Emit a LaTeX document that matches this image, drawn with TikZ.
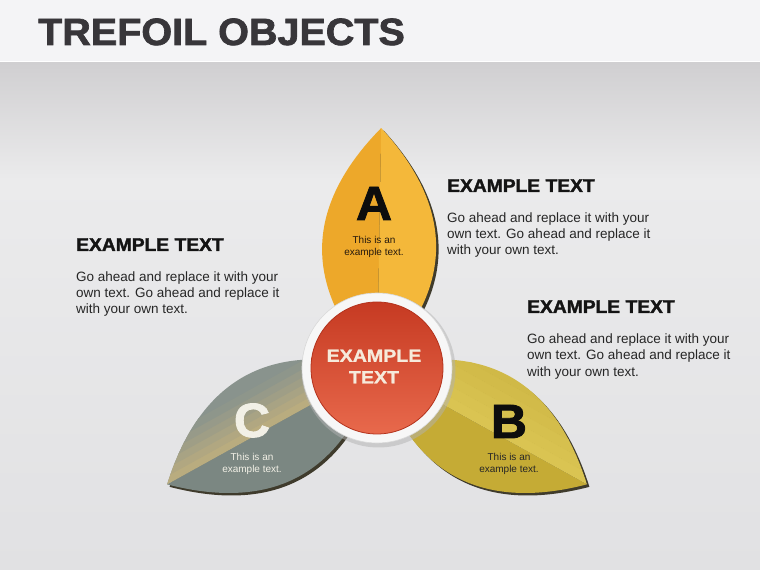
\documentclass[tikz,border=0pt]{standalone}
\usepackage{fontspec}
\setmainfont{Liberation Sans}
\newfontfamily\heavyfont{Liberation Sans}[BoldFeatures={FakeBold=1.8,FakeStretch=1.04}]
\newfontfamily\widefont{Liberation Sans}[BoldFeatures={FakeBold=1.2,FakeStretch=1.12}]
\usetikzlibrary{positioning}

\definecolor{headbg}{HTML}{F4F4F6}
\definecolor{bgtop}{HTML}{D0CFD1}
\definecolor{bgmid}{HTML}{EBEBEC}
\definecolor{bgbot}{HTML}{E1E1E3}
\definecolor{titlegray}{HTML}{38363A}
\definecolor{aleft}{HTML}{EDA82A}
\definecolor{aright}{HTML}{F4B83A}
\definecolor{blow}{HTML}{C5AB35}
\definecolor{bhigh}{HTML}{DAC452}
\definecolor{bup}{HTML}{CBB341}
\definecolor{clow}{HTML}{7B8782}
\definecolor{cbeige}{HTML}{BCAD7E}
\definecolor{cup}{HTML}{89938D}
\definecolor{leafshadow}{HTML}{3F3B2C}
\definecolor{redtop}{HTML}{C63A22}
\definecolor{redmid}{HTML}{D8462A}
\definecolor{redbot}{HTML}{E8694C}
\definecolor{reddark}{HTML}{B3321C}
\definecolor{hubtext}{HTML}{F6EADB}
\definecolor{ctext}{HTML}{F2F0E6}

% one leaf, base at the origin, tip on the x axis
\newcommand{\leafpath}{(0,0) .. controls (80,76) and (160,76) .. (240,0) .. controls (160,-76) and (80,-76) .. (0,0) -- cycle}

\begin{document}
\begin{tikzpicture}[x=1pt,y=1pt,
    title/.style={anchor=base west,inner sep=0pt,text=titlegray,
                  font=\heavyfont\bfseries\fontsize{38}{40}\selectfont},
    heading/.style={anchor=base west,inner sep=0pt,text=black!92,
                    font=\heavyfont\bfseries\fontsize{18.5}{20}\selectfont},
    body/.style={anchor=north west,inner sep=0pt,align=left,text=black!85,
                 font=\fontsize{13.5}{16.2}\selectfont},
    letter/.style={anchor=base,inner sep=0pt,
                   font=\heavyfont\bfseries\fontsize{48}{50}\selectfont},
    caption/.style={inner sep=0pt,align=center,font=\fontsize{10}{12}\selectfont},
    leaf/.style 2 args={shift={#1},rotate=#2}]

  \useasboundingbox (0,0) rectangle (760,570);

  % background
  \shade[top color=bgmid, bottom color=bgbot] (0,0) rectangle (760,390);
  \shade[top color=bgtop, bottom color=bgmid] (0,390) rectangle (760,508);
  \fill[headbg] (0,508) rectangle (760,570);
  \draw[white, line width=1pt] (0,508.5) -- (760,508.5);

  % leaf shadows
  \foreach \ang in {89,-29,209}
    \fill[leafshadow, leaf={(379.5,199.5)}{\ang}] \leafpath;

  % leaf A
  \begin{scope}[leaf={(377,202)}{89}]
    \clip \leafpath;
    \fill[aleft] (0,0) rectangle (240,80);
    \fill[aright] (0,-80) rectangle (240,0);
  \end{scope}

  % leaf B
  \begin{scope}[leaf={(377,202)}{-29}]
    \clip \leafpath;
    \fill[blow] (0,-80) rectangle (240,0);
    \foreach \k in {0,...,7}{
      \pgfmathtruncatemacro\mix{100-\k*13}
      \fill[bhigh!\mix!bup] (0,\k*10) rectangle (240,\k*10+10.5);
    }
  \end{scope}

  % leaf C
  \begin{scope}[leaf={(377,202)}{209}]
    \clip \leafpath;
    \fill[clow] (0,0) rectangle (240,80);
    \fill[cup] (0,-80) rectangle (240,0);
    \foreach \k in {0,...,5}{
      \pgfmathtruncatemacro\mix{95-\k*17}
      \fill[cbeige!\mix!cup] (0,-\k*7) rectangle (240,-\k*7-7.5);
    }
  \end{scope}

  % hub
  \fill[black!30, opacity=.5] (378.5,199.5) circle (77);
  \fill[white!97!black] (377,202) circle (75);
  \draw[black!15, line width=.6pt] (377,202) circle (75);
  \shade[top color=redtop, middle color=redmid, bottom color=redbot] (377,202) circle (66);
  \draw[reddark, line width=.8pt] (377,202) circle (66);

  \node[inner sep=0pt, align=center, text=hubtext,
        font=\widefont\bfseries\fontsize{17.5}{21.5}\selectfont]
        (hub) at (374,203.5) {EXAMPLE\\TEXT};

  % title
  \node[title] (ttl) at (38,525) {TREFOIL OBJECTS};

  % leaf letters
  \node[letter, text=black!95] (letA) at (374,350) {A};
  \node[caption, text=black!80!brown] (capA) [below=15.5pt of letA] {This is an\\example text.};
  \node[letter, text=black!95] (letB) at (509,132) {B};
  \node[caption, text=black!85] (capB) [below=15pt of letB] {This is an\\example text.};
  \node[letter, text=ctext] (letC) at (252,133) {C};
  \node[caption, text=ctext] (capC) [below=15pt of letC] {This is an\\example text.};

  % text blocks
  \node[heading] (headL) at (76,319) {EXAMPLE TEXT};
  \node[body] (bodyL) at (76,298.8) {Go ahead and replace it with your\\own text. Go ahead and replace it\\with your own text.};
  \node[heading] (headA) at (447,378) {EXAMPLE TEXT};
  \node[body] (bodyA) at (447,357.8) {Go ahead and replace it with your\\own text. Go ahead and replace it\\with your own text.};
  \node[heading] (headB) at (527,257) {EXAMPLE TEXT};
  \node[body] (bodyB) at (527,236.3) {Go ahead and replace it with your\\own text. Go ahead and replace it\\with your own text.};
\end{tikzpicture}
\end{document}
